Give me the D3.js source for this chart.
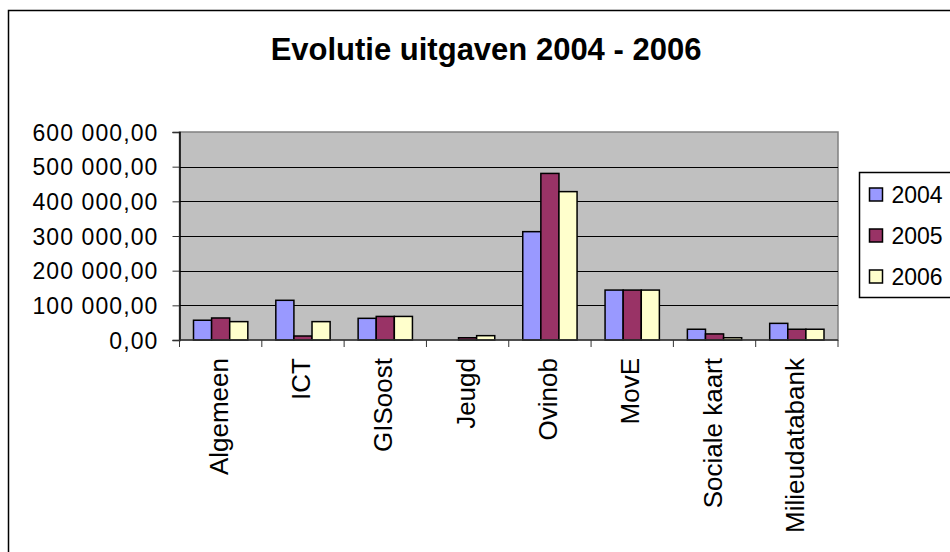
<!DOCTYPE html>
<html>
<head>
<meta charset="utf-8">
<script src="https://cdnjs.cloudflare.com/ajax/libs/d3/7.8.5/d3.min.js"></script>
<style>
  body { margin: 0; background: #fff; }
  text { font-family: "Liberation Sans", Arial, sans-serif; fill: #000; }
</style>
</head>
<body>
<div id="vis"></div>
<script>
const categories = ["Algemeen", "ICT", "GISoost", "Jeugd", "Ovinob", "MovE", "Sociale kaart", "Milieudatabank"];
const years = ["2004", "2005", "2006"];
const v2004 = [57000, 114500, 62500, 0, 312500, 144000, 31000, 48000];
const v2005 = [63500, 11500, 68000, 6500, 480500, 144000, 17500, 31000];
const v2006 = [53000, 53000, 68000, 12500, 428000, 144000, 6500, 31000];
const yTicks = [0, 100000, 200000, 300000, 400000, 500000, 600000];
const colors = ["#9999FF", "#993366", "#FFFFCC"];

const series = [v2004, v2005, v2006];
const width = 950, height = 552;
const plot = {left: 179.5, right: 838, top: 132, bottom: 340};

const svg = d3.select("#vis").append("svg")
    .attr("width", width)
    .attr("height", height);

// chart border
svg.append("rect")
    .attr("x", 8.5).attr("y", 10.5)
    .attr("width", 1000).attr("height", 1000)
    .attr("fill", "#fff").attr("stroke", "#000").attr("stroke-width", 1.5);

svg.append("text")
    .attr("x", 486).attr("y", 60)
    .attr("text-anchor", "middle")
    .style("font-size", "31px").style("font-weight", "bold")
    .text("Evolutie uitgaven 2004 - 2006");

const x = d3.scaleBand().domain(categories).range([plot.left, plot.right]);
const xs = d3.scaleBand().domain(years).range([14, x.bandwidth() - 14]);
const y = d3.scaleLinear().domain([0, 600000]).range([plot.bottom, plot.top]);

const loc = d3.formatLocale({decimal: ",", thousands: " ", grouping: [3], currency: ["", ""]});
const fmt = loc.format(",.2f");

svg.append("rect")
    .attr("x", plot.left).attr("y", plot.top)
    .attr("width", plot.right - plot.left).attr("height", plot.bottom - plot.top)
    .attr("fill", "#C0C0C0").attr("stroke", "#808080").attr("stroke-width", 1.5);

// gridlines
svg.append("g")
    .selectAll("line")
    .data(yTicks.slice(1, -1))
    .join("line")
    .attr("x1", plot.left).attr("x2", plot.right)
    .attr("y1", d => Math.round(y(d)) + 0.5).attr("y2", d => Math.round(y(d)) + 0.5)
    .attr("stroke", "#000").attr("stroke-width", 1);

// bars
const groups = svg.append("g")
    .selectAll("g")
    .data(series)
    .join("g")
    .attr("fill", (d, i) => colors[i]);

groups.selectAll("rect")
    .data((d, i) => d.map((v, j) => ({v: v, c: categories[j], s: years[i]})))
    .join("rect")
    .attr("x", d => x(d.c) + xs(d.s))
    .attr("width", xs.bandwidth())
    .attr("y", d => y(d.v))
    .attr("height", d => y(0) - y(d.v))
    .attr("stroke", "#000").attr("stroke-width", 1.5);

// y axis
const yAxis = svg.append("g")
    .attr("transform", "translate(" + plot.left + ",0)")
    .call(d3.axisLeft(y).tickValues(yTicks).tickFormat(fmt).tickSize(7).tickPadding(14));
yAxis.select(".domain").attr("stroke", "#000").attr("stroke-width", 1.5);
yAxis.selectAll(".tick line").attr("stroke", "#333");
yAxis.selectAll("text")
    .attr("fill", "#000")
    .style("font-size", "23px")
    .style("letter-spacing", "1.1px")
    .attr("dy", "0.36em");

// x axis
const xAxis = svg.append("g")
    .attr("transform", "translate(0," + plot.bottom + ")");
xAxis.append("line")
    .attr("x1", plot.left).attr("x2", plot.right)
    .attr("stroke", "#333").attr("stroke-width", 1.5);
xAxis.selectAll("line.tk")
    .data(categories.concat([null]))
    .join("line")
    .attr("class", "tk")
    .attr("x1", (d, i) => plot.left + i * x.step())
    .attr("x2", (d, i) => plot.left + i * x.step())
    .attr("y1", 0).attr("y2", 7)
    .attr("stroke", "#333");
xAxis.selectAll("text")
    .data(categories)
    .join("text")
    .attr("transform", d => "translate(" + (x(d) + x.bandwidth() / 2 + 7) + ",18) rotate(-90)")
    .attr("text-anchor", "end")
    .style("font-size", "26px")
    .text(d => d);

// legend
const legend = svg.append("g").attr("transform", "translate(859.5,172.5)");
legend.append("rect")
    .attr("width", 200).attr("height", 125)
    .attr("fill", "#fff").attr("stroke", "#000").attr("stroke-width", 1.5);
const li = legend.selectAll("g")
    .data(years)
    .join("g")
    .attr("transform", (d, i) => "translate(0," + (22 + i * 41) + ")");
li.append("rect")
    .attr("x", 10).attr("y", -6.5)
    .attr("width", 13).attr("height", 13)
    .attr("fill", (d, i) => colors[i])
    .attr("stroke", "#000").attr("stroke-width", 1.5);
li.append("text")
    .attr("x", 32).attr("y", 8)
    .style("font-size", "23px")
    .text(d => d);
</script>
</body>
</html>
